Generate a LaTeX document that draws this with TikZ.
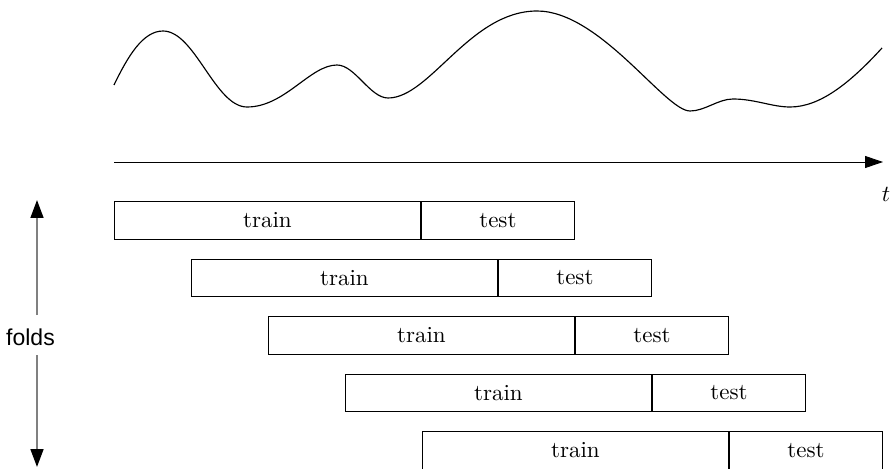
\documentclass[tikz,border=0pt]{standalone}
\usepackage{fontspec}
\newfontfamily\foldsfont{Liberation Sans}
\usetikzlibrary{arrows.meta}
\tikzset{
  trainbox/.style={draw, rectangle, minimum width=133.1pt, minimum height=16.5pt, inner sep=0pt, anchor=north west},
  testbox/.style={draw, rectangle, minimum width=66.6pt, minimum height=16.5pt, inner sep=0pt, anchor=west},
  axisarrow/.style={-{Triangle[length=7.8pt,width=5.2pt]}},
  foldarrow/.style={draw=black!50, line width=0.8pt, -{Triangle[length=7.8pt,width=5.6pt,color=black]}},
  signal/.style={line width=0.5pt}
}
\begin{document}
\begin{tikzpicture}[x=0.435pt, y=0.435pt]
\useasboundingbox (0,0) rectangle (891,468);
\clip (0,0) rectangle (891,468);
% signal curve
\draw[signal] (114,383)
  .. controls (128,412) and (143,437) .. (163,437)
  .. controls (195,437) and (215,361) .. (247,361)
  .. controls (285,361) and (310,403) .. (337,403)
  .. controls (355,403) and (370,370) .. (388,370)
  .. controls (430,370) and (470,457) .. (537,457)
  .. controls (600,457) and (665,357) .. (690,357)
  .. controls (705,357) and (718,369) .. (733,369)
  .. controls (755,369) and (772,361) .. (790,361)
  .. controls (820,361) and (850,385) .. (882,420);
% time axis
\coordinate (t0) at (114,306);
\coordinate (t1) at (883,306);
\draw[axisarrow] (t0) -- (t1);
\node (tlab) at (886,274) {$t$};
% folds arrow
\node[font=\foldsfont] (folds) at (30.5,131) {folds};
\coordinate (fa) at (37,153);
\coordinate (ftop) at (37,268);
\coordinate (fb) at (37,113);
\coordinate (fbot) at (37,1);
\draw[foldarrow] (fa) -- (ftop);
\draw[foldarrow] (fb) -- (fbot);
% folds boxes
\foreach \i in {0,...,4}{
  \pgfmathsetmacro{\bx}{114+77*\i}
  \pgfmathsetmacro{\by}{267-57.5*\i}
  \node[trainbox] (tr\i) at (\bx,\by) {train};
  \node[testbox] (te\i) at (tr\i.east) {test};
}
\end{tikzpicture}
\end{document}
